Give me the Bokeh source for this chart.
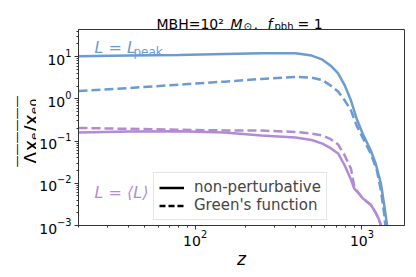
import math
from bokeh.plotting import figure
from bokeh.layouts import column, row
from bokeh.models import Label, Legend, LegendItem, FixedTicker
from bokeh.embed import file_html
from bokeh.resources import INLINE

# ---------------- data ----------------
z_peak_np = [20, 40, 80, 150, 250, 400, 500, 580, 650, 720, 790, 860, 930, 1010, 1130, 1210, 1300, 1375, 1415, 1450]
y_peak_np = [10.2, 10.6, 11.0, 11.6, 12.0, 12.0, 10.6, 8.5, 6.1, 4.0, 2.06, 0.91, 0.34, 0.151, 0.060, 0.029, 0.0099, 0.0023, 0.001, 0.0003]

z_peak_gf = [20, 40, 80, 150, 250, 400, 500, 580, 650, 720, 790, 860, 930, 1010, 1130, 1230, 1300, 1360, 1380, 1400]
y_peak_gf = [1.54, 1.80, 2.17, 2.56, 2.96, 3.31, 3.19, 2.78, 2.06, 1.49, 0.91, 0.53, 0.233, 0.121, 0.0506, 0.020, 0.0067, 0.0019, 0.001, 0.0003]

z_avg_np = [20, 40, 80, 150, 250, 400, 500, 580, 650, 720, 790, 860, 900, 960, 1010, 1130, 1210, 1265, 1300, 1330]
y_avg_np = [0.159, 0.168, 0.172, 0.159, 0.135, 0.121, 0.106, 0.087, 0.068, 0.051, 0.026, 0.0123, 0.0075, 0.0057, 0.0044, 0.0031, 0.0020, 0.0014, 0.001, 0.0005]

z_avg_gf = [20, 40, 80, 150, 250, 400, 500, 580, 650, 720, 790, 860, 900, 960, 1010, 1130, 1210, 1265, 1300, 1330]
y_avg_gf = [0.205, 0.195, 0.185, 0.179, 0.177, 0.165, 0.151, 0.135, 0.111, 0.083, 0.045, 0.022, 0.0084, 0.0057, 0.0044, 0.0031, 0.0020, 0.0014, 0.001, 0.0005]

x_major = [100, 1000]
x_minor = [20, 30, 40, 50, 60, 70, 80, 90, 200, 300, 400, 500, 600, 700, 800, 900]
y_major = [1e-3, 1e-2, 1e-1, 1e0, 1e1]
y_minor = [m * d for d in [1e-3, 1e-2, 1e-1, 1e0, 1e1] for m in range(2, 10)]

legend_labels = ["non-perturbative", "Green's function"]

BLUE = "#6b9bd2"
PURPLE = "#b38ad4"
FONT = "DejaVu Sans"

# ---------------- layout geometry (page px, canvas starts at page origin) ----------------
TOP_H = 29      # title strip
LEFT_W = 36     # y-label strip
MAIN_W, MAIN_H = 379, 247
FRAME_L, FRAME_B = 78, 225
BOTTOM_BORDER = TOP_H + MAIN_H - FRAME_B


def blank(width, height, border_bottom=0):
    f = figure(width=width, height=height, output_backend="svg", toolbar_location=None,
               x_axis_location=None, y_axis_location=None, title=None,
               min_border_left=0, min_border_right=0, min_border_top=0,
               min_border_bottom=border_bottom,
               x_range=(0, 1), y_range=(0, 1))
    f.grid.visible = False
    f.outline_line_color = None
    f.background_fill_color = "white"
    f.border_fill_color = "white"
    return f


def lab(fig, ox, oy_bottom, text, X, Y, size, color="black", style="normal",
        align="left", angle=0.0):
    # X, Y are page pixel positions; ox = frame left, oy_bottom = frame bottom (page px)
    fig.add_layout(Label(x=X - ox, y=oy_bottom - Y, x_units="screen", y_units="screen",
                         text=text, text_font=FONT, text_font_size=f"{size}px",
                         text_color=color, text_font_style=style, text_align=align,
                         text_baseline="alphabetic", angle=angle))


# ---------------- title strip ----------------
top = blank(LEFT_W + MAIN_W, TOP_H)
T0x, T0b = 0, TOP_H
lab(top, T0x, T0b, "MBH=10\u00b2", 156, 23, 14)
lab(top, T0x, T0b, "M", 230, 23, 14, style="italic")
lab(top, T0x, T0b, "\u2299", 243, 26, 10)
lab(top, T0x, T0b, ",", 253, 23, 14)
lab(top, T0x, T0b, "f", 267, 23, 14, style="italic")
lab(top, T0x, T0b, "pbh", 274, 26, 10)
lab(top, T0x, T0b, "= 1", 297, 23, 14)

# ---------------- y-label strip (frame matches the main frame vertically) ----------------
left = blank(LEFT_W, MAIN_H, border_bottom=BOTTOM_BORDER)
L0x, L0b = 0, FRAME_B
lab(left, L0x, L0b, "\u0394x\u2091/x\u2091\u2080", 30, 131, 19, align="center", angle=math.pi / 2)
lab(left, L0x, L0b, "\u2014" * 6, 16, 131, 12, align="center", angle=math.pi / 2)

# ---------------- main plot ----------------
p = figure(width=MAIN_W, height=MAIN_H, x_axis_type="log", y_axis_type="log",
           x_range=(20, 1800), y_range=(1e-3, 44), title=None,
           output_backend="svg", toolbar_location=None,
           min_border_left=FRAME_L - LEFT_W, min_border_right=LEFT_W + MAIN_W - 404,
           min_border_top=0, min_border_bottom=BOTTOM_BORDER)
p.grid.visible = False
p.outline_line_color = "#333333"
p.outline_line_width = 1
p.background_fill_color = "white"
p.border_fill_color = "white"

for ax, maj, mnr in ((p.xaxis[0], x_major, x_minor), (p.yaxis[0], y_major, y_minor)):
    ax.ticker = FixedTicker(ticks=maj, minor_ticks=mnr)
    ax.major_tick_in = 0
    ax.major_tick_out = 4
    ax.minor_tick_in = 0
    ax.minor_tick_out = 2
    ax.axis_line_color = "#333333"
    ax.major_tick_line_color = "#333333"
    ax.minor_tick_line_color = "#333333"
    ax.major_label_text_font = FONT
    ax.major_label_text_font_size = "14px"
    ax.major_label_text_color = "black"
p.xaxis.major_label_standoff = 0
p.yaxis.major_label_standoff = 3
p.xaxis.axis_label = "z"
p.xaxis.axis_label_text_font = FONT
p.xaxis.axis_label_text_font_size = "17px"
p.xaxis.axis_label_text_font_style = "italic"
p.xaxis.axis_label_text_color = "black"
p.xaxis.axis_label_standoff = 0

p.line(z_peak_np, y_peak_np, line_color=BLUE, line_width=2.5)
p.line(z_peak_gf, y_peak_gf, line_color=BLUE, line_width=2.5, line_dash="9 4")
p.line(z_avg_np, y_avg_np, line_color=PURPLE, line_width=2.5)
p.line(z_avg_gf, y_avg_gf, line_color=PURPLE, line_width=2.5, line_dash="9 4")

# legend proxies: black styled copies, hidden in the plot
l1 = p.line(z_peak_np, y_peak_np, line_color="black", line_width=2.5, visible=False)
l2 = p.line(z_peak_gf, y_peak_gf, line_color="black", line_width=2.5, line_dash="6 3", visible=False)
legend = Legend(items=[LegendItem(label=legend_labels[0], renderers=[l1]),
                       LegendItem(label=legend_labels[1], renderers=[l2])],
                location=(75, 5), label_text_font=FONT, label_text_font_size="15px",
                glyph_width=25, glyph_height=17, label_height=17, label_standoff=10,
                padding=5, spacing=0, margin=0,
                border_line_color="#cccccc", border_line_width=1,
                background_fill_color="white", background_fill_alpha=0.85)
p.add_layout(legend)

lab(p, FRAME_L, FRAME_B, "L = L", 94, 47, 16, color=BLUE, style="italic")
lab(p, FRAME_L, FRAME_B, "peak", 133, 51, 12, color=BLUE)
lab(p, FRAME_L, FRAME_B, "L = \u27e8L\u27e9", 94, 192, 16, color=PURPLE, style="italic")

layout = column(top, row(left, p))
open("out.html", "w").write(file_html(layout, INLINE))
